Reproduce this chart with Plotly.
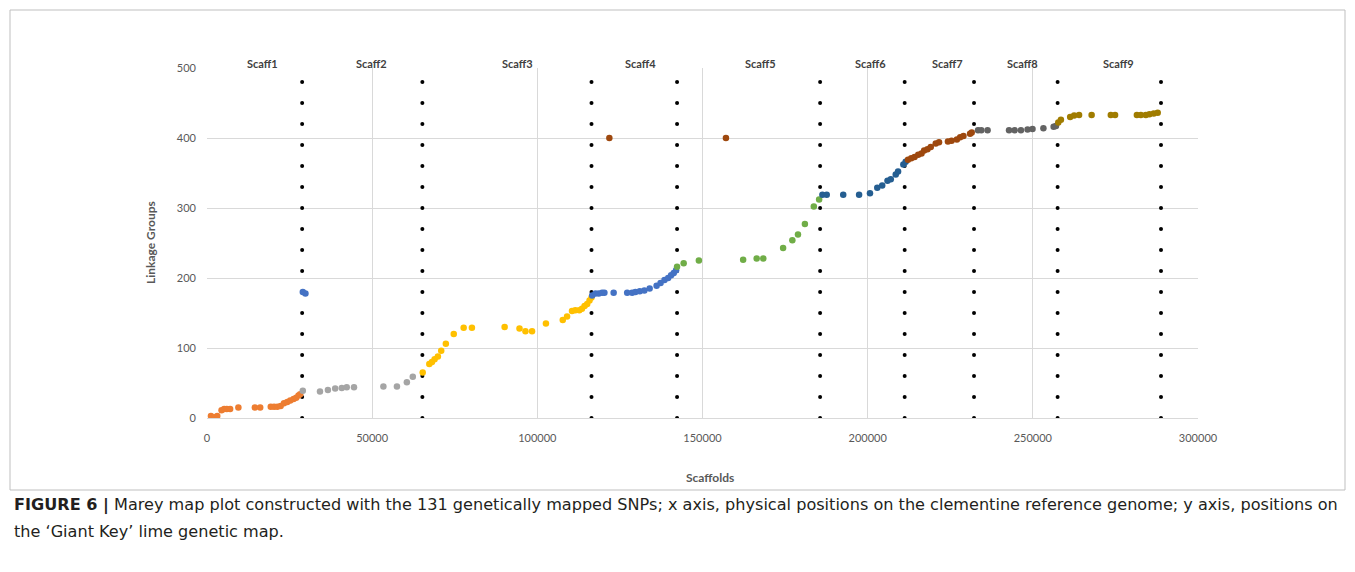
import plotly.graph_objects as go

# ---------------- data ----------------
scaff_names = ["Scaff1", "Scaff2", "Scaff3", "Scaff4", "Scaff5", "Scaff6", "Scaff7", "Scaff8", "Scaff9"]
scaff_label_x = [16700, 49700, 94000, 131200, 167600, 200900, 224200, 247000, 276000]
boundaries = [28800, 65200, 116400, 142300, 185600, 211200, 232200, 257500, 288800]
dot_levels = [0, 30, 60, 90, 120, 150, 180, 210, 240, 270, 300, 330, 360, 390, 420, 450, 480]

s1_x = [1200, 1700, 2400, 3100, 4400, 5200, 6000, 7000, 9500, 14500, 16100, 19300, 20300, 21300, 22300,
        23300, 24300, 25200, 26200, 27000, 27700, 28200]
s1_y = [3, 0, 1, 3, 11, 13, 13, 13, 15, 15, 15, 16, 16, 16, 17, 21, 23, 25, 27, 29, 32, 34]

s2_x = [29000, 34200, 36600, 38800, 40800, 42300, 44500, 53400, 57500, 60500, 62300]
s2_y = [39, 38, 40, 42, 43, 44, 44, 45, 45, 51, 59]

s3_x = [65300, 67300, 68100, 68900, 69900, 70900, 72300, 74700, 77700, 80200, 90100, 94600, 96400, 98400,
        102600, 107700, 109000, 110500, 111500, 112700, 113500, 114300, 115100, 115800, 116400]
s3_y = [65, 77, 80, 84, 88, 96, 106, 120, 129, 129, 130, 128, 124, 124, 135, 140, 145, 153, 154, 154,
        156, 160, 163, 168, 172]

s4_x = [29000, 29800, 116600, 117600, 118600, 119600, 120300, 123100, 127200, 128700, 129700, 131000,
        132400, 134000, 136100, 137300, 138500, 139600, 140500, 141300, 142000]
s4_y = [180, 178, 175, 178, 178, 179, 179, 179, 179, 179, 180, 181, 182, 185, 189, 193, 197, 200, 204,
        207, 211]

s5_x = [142300, 144300, 148900, 162300, 166400, 168400, 174400, 177200, 178900, 181000, 183700, 185300]
s5_y = [216, 221, 225, 226, 228, 228, 243, 254, 262, 277, 302, 312]

s6_x = [186300, 187600, 192600, 197400, 200700, 202900, 204400, 206000, 207000, 208500, 209200, 210800,
        211500]
s6_y = [319, 319, 319, 319, 321, 329, 332, 339, 341, 348, 352, 362, 366]

s7_x = [121800, 157100, 212200, 213200, 214200, 215300, 216300, 217100, 218100, 219100, 220600, 221600,
        224300, 225400, 227000, 228000, 229000, 231000, 231500]
s7_y = [400, 400, 369, 371, 373, 376, 378, 382, 384, 387, 392, 394, 395, 396, 398, 401, 403, 406, 408]

s8_x = [233400, 234400, 236300, 242800, 244500, 246400, 248400, 249900, 253200, 256300, 257000]
s8_y = [411, 411, 411, 411, 411, 411, 412, 413, 414, 416, 417]

s9_x = [257700, 258500, 261300, 262500, 264000, 267800, 273600, 274900, 281500, 282700, 284200, 285300,
        286600, 287800]
s9_y = [422, 426, 430, 432, 433, 433, 433, 433, 433, 433, 433, 434, 435, 436]

x_ticks = [0, 50000, 100000, 150000, 200000, 250000, 300000]
y_ticks = [0, 100, 200, 300, 400, 500]

caption_bold = "FIGURE 6 |"
caption_line1 = (" Marey map plot constructed with the 131 genetically mapped SNPs; x axis, physical positions "
                 "on the clementine reference genome; y axis, positions on")
caption_line2 = "the \u2018Giant Key\u2019 lime genetic map."

series = [
    (s1_x, s1_y, "#ED7D31"),
    (s2_x, s2_y, "#A5A5A5"),
    (s3_x, s3_y, "#FFC000"),
    (s4_x, s4_y, "#4472C4"),
    (s5_x, s5_y, "#70AD47"),
    (s6_x, s6_y, "#255E91"),
    (s7_x, s7_y, "#9E480E"),
    (s8_x, s8_y, "#636363"),
    (s9_x, s9_y, "#A07C00"),
]

# ---------------- layout geometry (reference pixels; page has 8px body margin) ----------------
OFF = 8
W, H = 1355 - OFF, 572 - OFF
L, R, T, B = 207, 1198, 68, 418
pw, ph = R - L, B - T


def px_x(px):
    return (px - L) / pw


def px_y(py):
    return (B - py) / ph


fig = go.Figure()

# boundary dotted columns
for bx in boundaries:
    fig.add_trace(go.Scatter(
        x=[bx] * len(dot_levels), y=dot_levels, mode="markers",
        marker=dict(color="black", size=4), hoverinfo="skip", showlegend=False))

for sx, sy, col in series:
    fig.add_trace(go.Scatter(
        x=sx, y=sy, mode="markers",
        marker=dict(color=col, size=6.5, line=dict(width=0)), showlegend=False))

chart_font = "Lato, Open Sans, Liberation Sans, sans-serif"
annotations = []
for name, lx in zip(scaff_names, scaff_label_x):
    annotations.append(dict(x=lx, xref="x", y=px_y(63), yref="paper", text="<b>%s</b>" % name,
                            showarrow=False, xanchor="center", yanchor="middle",
                            font=dict(family=chart_font, size=11, color="#404040")))

annotations.append(dict(x=px_x(150), xref="paper", y=px_y(243), yref="paper", text="<b>Linkage Groups</b>",
                        textangle=-90, showarrow=False, xanchor="center", yanchor="middle",
                        font=dict(family=chart_font, size=12, color="#595959")))
annotations.append(dict(x=px_x(710), xref="paper", y=px_y(477), yref="paper", text="<b>Scaffolds</b>",
                        showarrow=False, xanchor="center", yanchor="middle",
                        font=dict(family=chart_font, size=12, color="#595959")))

cap_font = "DejaVu Sans, Liberation Sans, sans-serif"
annotations.append(dict(x=px_x(12), xref="paper", y=px_y(505), yref="paper",
                        text="<b>%s</b>%s" % (caption_bold, caption_line1),
                        showarrow=False, xanchor="left", yanchor="middle",
                        font=dict(family=cap_font, size=16.1, color="#231F20")))
annotations.append(dict(x=px_x(12), xref="paper", y=px_y(531), yref="paper", text=caption_line2,
                        showarrow=False, xanchor="left", yanchor="middle",
                        font=dict(family=cap_font, size=16.1, color="#231F20")))

shapes = [dict(type="rect", xref="paper", yref="paper",
               x0=px_x(10), x1=px_x(1345), y0=px_y(490), y1=px_y(10),
               line=dict(color="#BFBFBF", width=1), fillcolor="rgba(0,0,0,0)", layer="below")]

fig.update_layout(
    width=W, height=H,
    margin=dict(l=L - OFF, r=(W + OFF) - R, t=T - OFF, b=(H + OFF) - B, pad=0),
    paper_bgcolor="white", plot_bgcolor="white",
    annotations=annotations, shapes=shapes,
    xaxis=dict(range=[0, 300000], tickvals=x_ticks, ticktext=[str(v) for v in x_ticks],
               showgrid=True, gridcolor="#D9D9D9", gridwidth=1, zeroline=False,
               showline=True, linecolor="#D9D9D9", ticks="", ticklabelstandoff=10,
               tickfont=dict(family=chart_font, size=11, color="#595959"), mirror=False),
    yaxis=dict(range=[0, 500], tickvals=y_ticks, ticktext=[str(v) for v in y_ticks],
               showgrid=True, gridcolor="#D9D9D9", gridwidth=1, zeroline=False,
               showline=False, ticks="", ticklabelstandoff=10,
               tickfont=dict(family=chart_font, size=11, color="#595959")),
    hovermode="closest",
)

fig.write_html("out.html")
